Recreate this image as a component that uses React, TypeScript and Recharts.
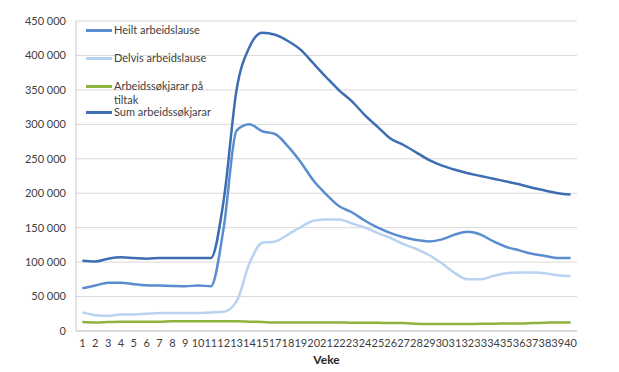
import React from "react";
import {
  LineChart,
  Line,
  XAxis,
  YAxis,
  CartesianGrid,
} from "recharts";

// week 16 is missing from the source data
const weeks = [
  "1", "2", "3", "4", "5", "6", "7", "8", "9", "10", "11", "12", "13", "14", "15",
  "17", "18", "19", "20", "21", "22", "23", "24", "25", "26", "27", "28", "29", "30",
  "31", "32", "33", "34", "35", "36", "37", "38", "39", "40",
];

const heilt = [
  62000, 66000, 70000, 70000, 68000, 66500, 66000, 65500, 65000, 66000, 65000, 150000,
  291000, 300000, 290000, 286000, 268000, 245000, 218000, 198000, 181000, 172000, 160000,
  150000, 142000, 136000, 132000, 130000, 133000, 140000, 144000, 140000, 130000, 122000,
  117000, 112000, 109000, 106000, 106000,
];

const delvis = [
  27000, 23000, 22000, 24000, 24000, 25000, 26000, 26000, 26000, 26000, 27000, 28000,
  43000, 98000, 128000, 130000, 140000, 151000, 160000, 162000, 162000, 156000, 150000,
  142000, 135000, 126000, 119000, 110000, 98000, 84000, 75000, 75000, 80000, 84000,
  85000, 85000, 84000, 81000, 80000,
];

const tiltak = [
  13000, 12500, 13000, 13500, 13500, 13500, 13500, 14000, 14000, 14000, 14000, 14000,
  14000, 13500, 13000, 12500, 12500, 12500, 12500, 12500, 12500, 12000, 12000, 12000,
  11500, 11500, 10500, 10000, 10000, 10000, 10000, 10500, 10500, 11000, 11000, 11500,
  12000, 12500, 12500,
];

const sum = [
  102000, 101000, 105000, 107000, 106000, 105000, 106000, 106000, 106000, 106000, 106000,
  190000, 350000, 412000, 433000, 430000, 421000, 408000, 388000, 368000, 349000, 333000,
  313000, 296000, 279000, 270000, 259000, 248000, 240000, 234000, 229000, 225000, 221000,
  217000, 213000, 208000, 204000, 200000, 198000,
];

const yTicks = [0, 50000, 100000, 150000, 200000, 250000, 300000, 350000, 400000, 450000];

const data = weeks.map((w, i) => ({
  week: w,
  heilt: heilt[i],
  delvis: delvis[i],
  tiltak: tiltak[i],
  sum: sum[i],
}));

const series = [
  { key: "heilt", name: "Heilt arbeidslause", color: "#5a8dd0" },
  { key: "delvis", name: "Delvis arbeidslause", color: "#b8d3f1" },
  { key: "tiltak", name: "Arbeidssøkjarar på tiltak", color: "#8db33e" },
  { key: "sum", name: "Sum arbeidssøkjarar", color: "#3d6db3" },
];

const font = "Lato, 'Open Sans', sans-serif";
const textColor = "#404040";

const fmt = (v: number) => (v === 0 ? "0" : v.toLocaleString("en-US").replace(/,/g, " "));

// legend sits inside the plot, top-left, like the Excel original
function LegendBox() {
  const rows = [
    { s: series[0], top: 0, lines: ["Heilt arbeidslause"] },
    { s: series[1], top: 28, lines: ["Delvis arbeidslause"] },
    { s: series[2], top: 56, lines: ["Arbeidssøkjarar på", "tiltak"] },
    { s: series[3], top: 82, lines: ["Sum arbeidssøkjarar"] },
  ];
  return (
    <div style={{ position: "absolute", left: 78, top: 22, width: 200, fontFamily: font }}>
      {rows.map((r) => (
        <div key={r.s.key} style={{ position: "absolute", left: 0, top: r.top - 7 }}>
          <div
            style={{
              position: "absolute",
              left: 0,
              top: 6,
              width: 26,
              height: 3,
              background: r.s.color,
            }}
          />
          <div
            style={{
              position: "absolute",
              left: 28,
              top: 0,
              fontSize: 11,
              lineHeight: "14px",
              color: textColor,
              whiteSpace: "nowrap",
            }}
          >
            {r.lines.map((l) => (
              <div key={l}>{l}</div>
            ))}
          </div>
        </div>
      ))}
    </div>
  );
}

export default function App() {
  return (
    <div style={{ position: "relative", width: 611, height: 364 }}>
      <LineChart
        width={611}
        height={364}
        data={data}
        margin={{ top: 13, right: 42, left: 0, bottom: 0 }}
      >
        <CartesianGrid vertical={false} stroke="#d9d9d9" />
        <XAxis
          dataKey="week"
          interval={0}
          tickLine={false}
          axisLine={{ stroke: "#c8c8c8" }}
          padding={{ left: 6.4, right: 6.4 }}
          height={41}
          tick={{ fontSize: 11, fill: textColor, fontFamily: font }}
          label={{
            value: "Veke",
            position: "insideBottom",
            offset: 8,
            style: { fontSize: 12, fontWeight: "bold", fill: "#262626", fontFamily: font },
          }}
        />
        <YAxis
          domain={[0, 450000]}
          ticks={yTicks}
          width={68}
          tickLine={false}
          tickMargin={4}
          axisLine={{ stroke: "#c8c8c8" }}
          tickFormatter={fmt}
          tick={{ fontSize: 11, fill: textColor, fontFamily: font }}
        />
        {series.map((s) => (
          <Line
            key={s.key}
            type="monotone"
            dataKey={s.key}
            name={s.name}
            stroke={s.color}
            strokeWidth={2.5}
            dot={false}
            activeDot={false}
            isAnimationActive={false}
          />
        ))}
      </LineChart>
      <LegendBox />
    </div>
  );
}
